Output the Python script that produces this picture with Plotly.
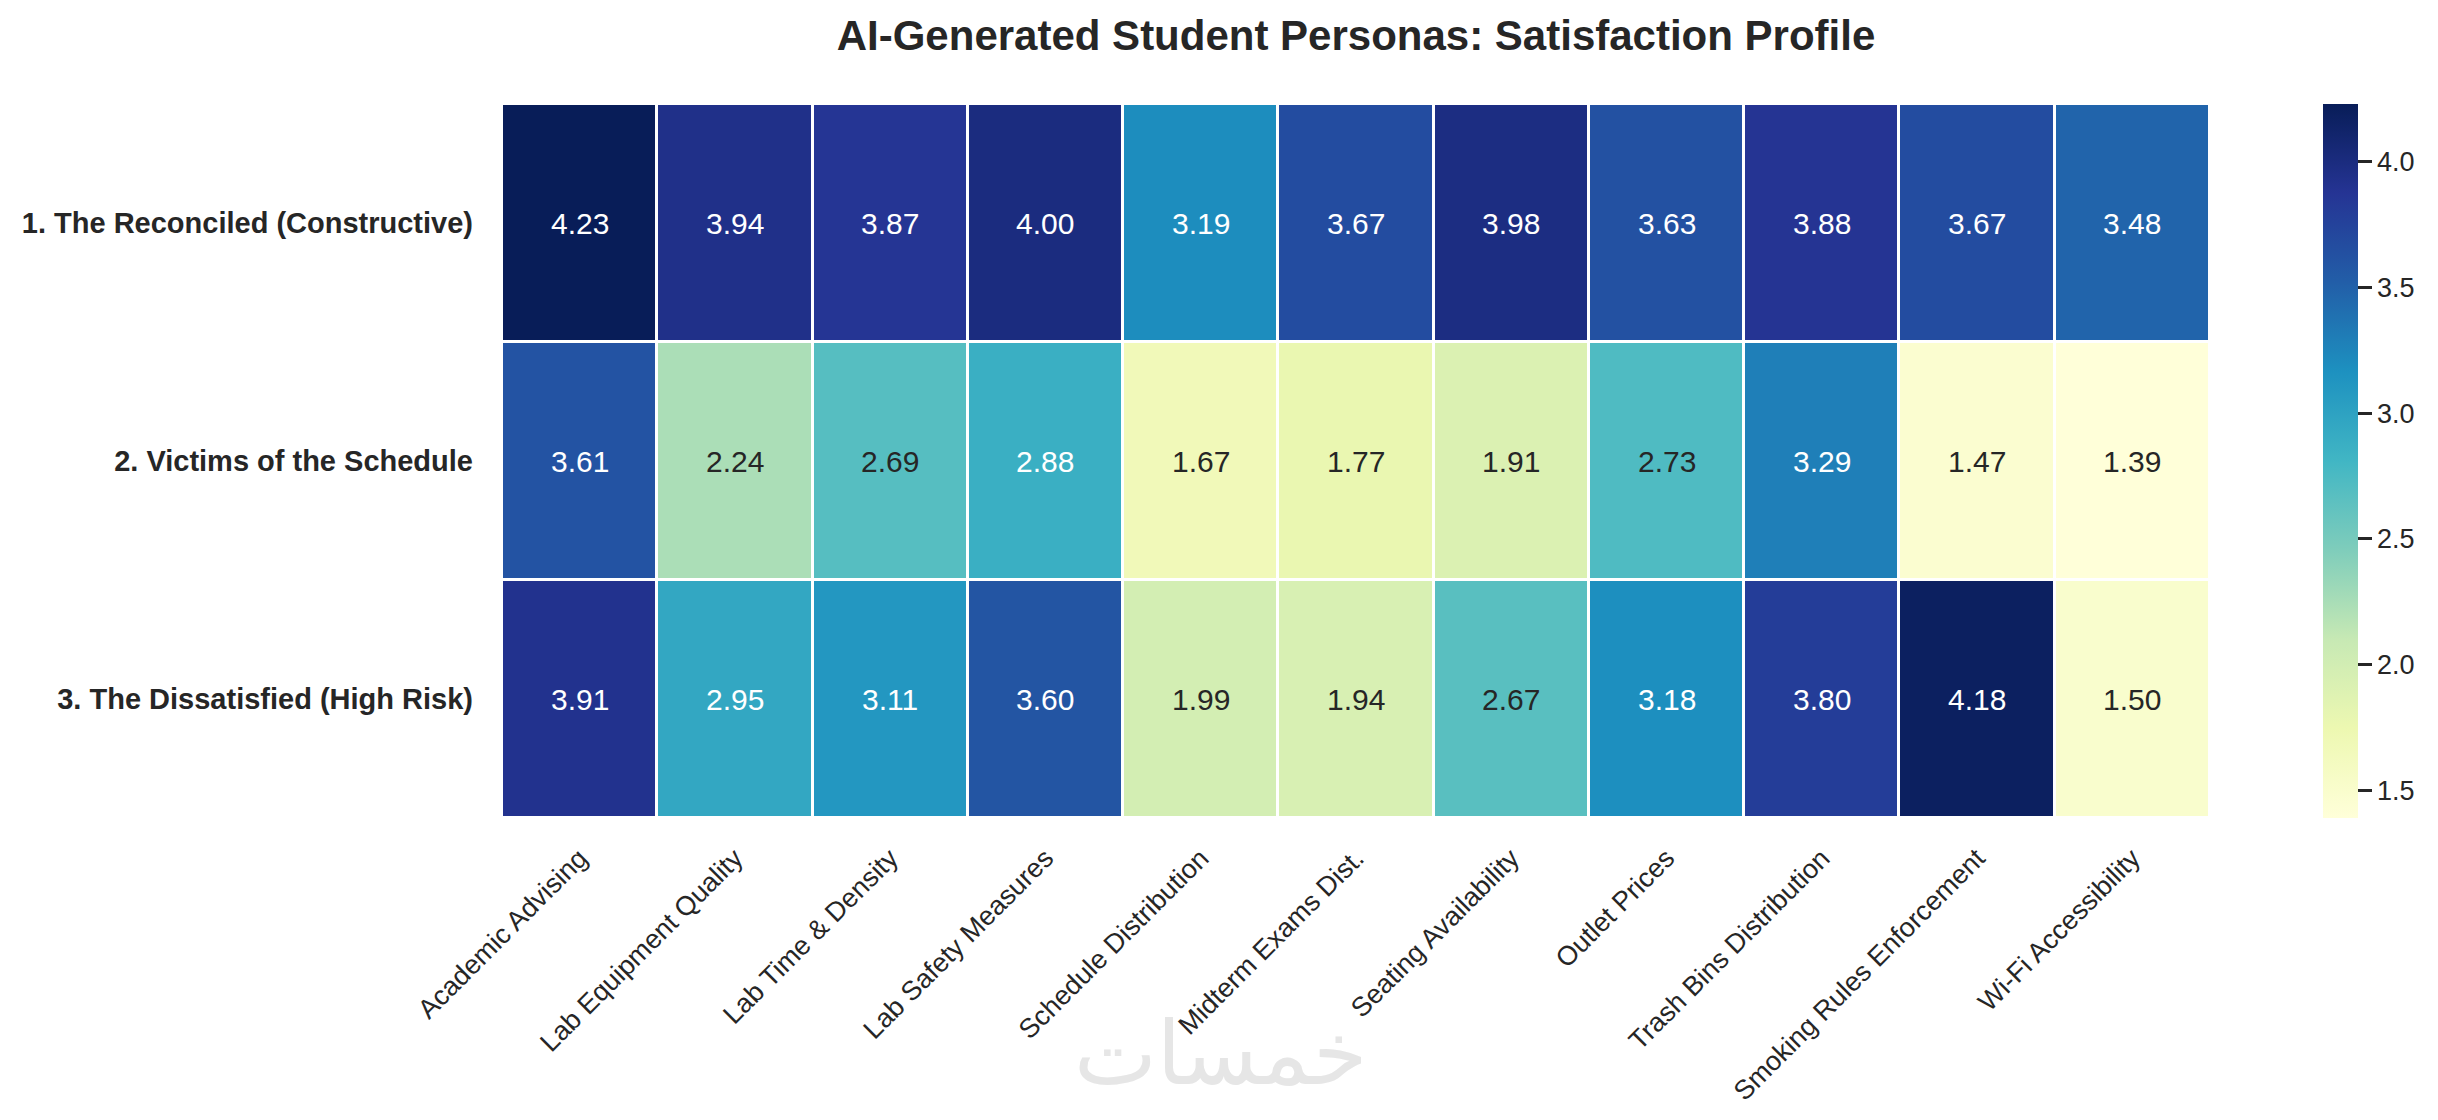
import plotly.graph_objects as go
import plotly.colors as pc

# Data
personas = ['1. The Reconciled (Constructive)', '2. Victims of the Schedule', '3. The Dissatisfied (High Risk)']
aspects = ['Academic Advising', 'Lab Equipment Quality', 'Lab Time & Density', 'Lab Safety Measures',
           'Schedule Distribution', 'Midterm Exams Dist.', 'Seating Availability', 'Outlet Prices',
           'Trash Bins Distribution', 'Smoking Rules Enforcement', 'Wi-Fi Accessibility']
reconciled = [4.23, 3.94, 3.87, 4.00, 3.19, 3.67, 3.98, 3.63, 3.88, 3.67, 3.48]
victims = [3.61, 2.24, 2.69, 2.88, 1.67, 1.77, 1.91, 2.73, 3.29, 1.47, 1.39]
dissatisfied = [3.91, 2.95, 3.11, 3.60, 1.99, 1.94, 2.67, 3.18, 3.80, 4.18, 1.50]
cbar_ticks = [1.5, 2.0, 2.5, 3.0, 3.5, 4.0]

z = [reconciled, victims, dissatisfied]
zmin = min(min(r) for r in z)
zmax = max(max(r) for r in z)

FONT = 'Arial, Liberation Sans, sans-serif'
DARK = '#262626'

fig = go.Figure()

fig.add_trace(go.Heatmap(
    z=z,
    x=aspects,
    y=personas,
    zmin=zmin,
    zmax=zmax,
    colorscale=pc.sequential.YlGnBu,
    xgap=3,
    ygap=3,
    hoverinfo='x+y+z',
    colorbar=dict(
        thickness=35,
        len=1.0,
        x=1.066,
        xanchor='left',
        xpad=0,
        y=0.5,
        ypad=0,
        outlinewidth=0,
        tickvals=cbar_ticks,
        ticktext=[f'{t:.1f}' for t in cbar_ticks],
        ticks='outside',
        ticklen=14,
        tickwidth=3,
        tickcolor=DARK,
        tickfont=dict(family=FONT, size=27, color=DARK),
    ),
))

# cell labels, white on dark cells
for row, name in zip(z, personas):
    for val, asp in zip(row, aspects):
        fig.add_annotation(
            x=asp, y=name, text=f'{val:.2f}', showarrow=False,
            font=dict(family=FONT, size=30, color='white' if val > 2.8 else DARK),
        )

# watermark
fig.add_annotation(
    x=(1220 - 502) / 1708, y=-0.405, xref='paper', yref='paper', text='خمسات', showarrow=False,
    xanchor='center', yanchor='bottom',
    font=dict(family='DejaVu Sans', size=88, color='#e6e6e6'),
)

fig.update_layout(
    width=2438,
    height=1120,
    title=dict(
        text='AI-Generated Student Personas: Satisfaction Profile',
        x=(502 + 1708 / 2 - 8) / 2438, xanchor='center',
        y=0.989, yanchor='top',
        font=dict(family=FONT, size=42, color=DARK, weight='bold'),
    ),
    margin=dict(l=494, r=236, t=96, b=310),
    plot_bgcolor='white',
    paper_bgcolor='white',
    xaxis=dict(
        tickangle=-45,
        tickfont=dict(family=FONT, size=27, color=DARK),
        ticklabelstandoff=18,
        showgrid=False,
        zeroline=False,
    ),
    yaxis=dict(
        autorange='reversed',
        tickfont=dict(family=FONT, size=29, color=DARK, weight='bold'),
        ticklabelstandoff=28,
        showgrid=False,
        zeroline=False,
    ),
)

fig.write_html('out.html')
